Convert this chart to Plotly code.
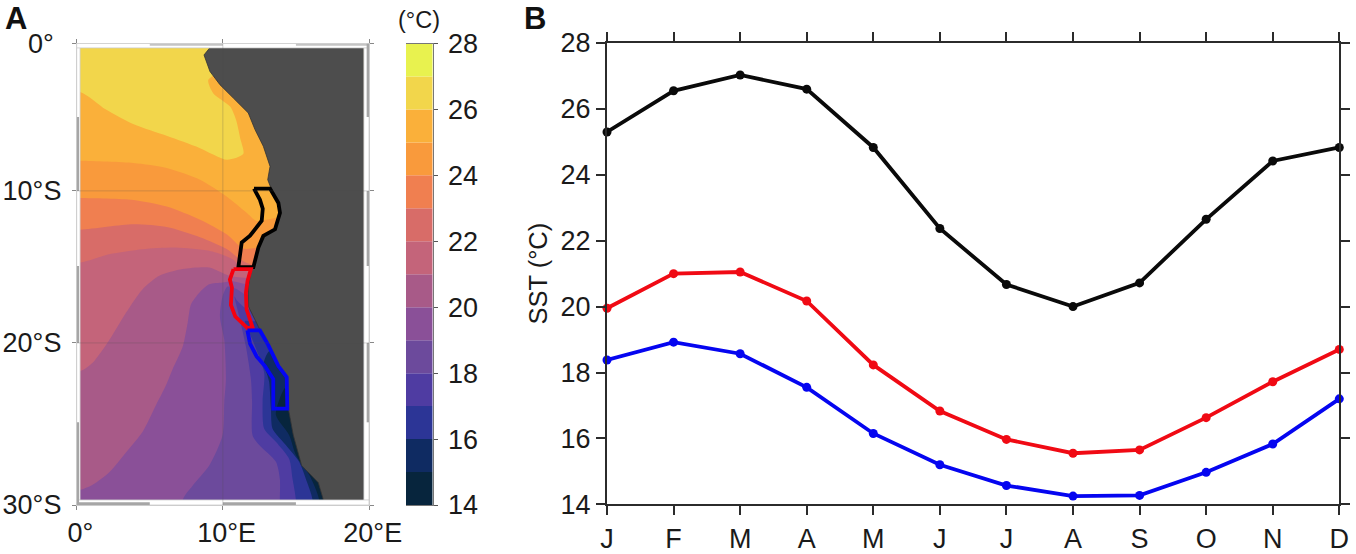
import math
import plotly.graph_objects as go

MONTHS = ["J", "F", "M", "A", "M", "J", "J", "A", "S", "O", "N", "D"]
sst_black = [25.3, 26.55, 27.03, 26.6, 24.83, 22.37, 20.67, 20.0, 20.72, 22.65, 24.42, 24.83]
sst_red = [19.95, 21.0, 21.05, 20.17, 18.23, 16.83, 15.97, 15.55, 15.65, 16.63, 17.72, 18.7]
sst_blue = [18.38, 18.92, 18.57, 17.55, 16.15, 15.2, 14.57, 14.25, 14.27, 14.97, 15.83, 17.2]

cbar_levels = [14, 15, 16, 17, 18, 19, 20, 21, 22, 23, 24, 25, 26, 27]
cbar_colors = ["#07253D", "#0F2B62", "#2C3596", "#4F3CA2", "#6C4A9C", "#8A5098", "#A85A88",
               "#C4647A", "#D86C68", "#F07F50", "#F99A3C", "#FAB03A", "#F2D64B", "#E8F24F"]

# traced isotherms (lon, lat); each one is the northern/western limit of the water colder than it
iso26_lon = [0.23, 2.0, 3.9, 6.2, 8.4, 10.3, 11.4, 11.2, 10.9, 10.5, 9.35, 9.0, 9.6, 15]
iso26_lat = [-3.3, -4.5, -5.5, -6.3, -7.1, -7.9, -7.5, -6.5, -5.2, -4.3, -3.4, -2.5, -2.1, -2.1]
iso25_lon = [0.23, 3.88, 6.16, 8.44, 10.26, 11.63, 12.31, 13.68, 15]
iso25_lat = [-7.97, -8.12, -8.46, -9.25, -10.38, -11.47, -12.01, -11.8, -11.8]
iso24_lon = [0.23, 3.88, 6.16, 8.44, 10.26, 11.4, 12.43, 15]
iso24_lat = [-10.48, -10.61, -11.05, -11.93, -12.9, -13.85, -13.8, -13.8]
iso23_lon = [0.23, 3.88, 6.16, 8.44, 10.26, 11.17, 12.2, 15]
iso23_lat = [-12.6, -12.24, -12.42, -13.1, -13.88, -14.56, -14.99, -14.99]
iso22_lon = [0.23, 2.23, 4.51, 6.79, 9.07, 10.67, 11.24, 12.03, 15]
iso22_lat = [-14.77, -14.22, -13.89, -13.78, -14.0, -14.55, -15.1, -15.5, -15.5]
iso21_lon = [0.23, 1.09, 2.23, 3.37, 4.51, 5.65, 7.25, 9.07, 10.44, 11.8, 15]
iso21_lat = [-21.8, -21.27, -19.82, -18.06, -16.52, -15.64, -15.2, -15.1, -15.64, -15.8, -15.8]
iso20_lon = [0.23, 1.09, 2.23, 3.37, 4.51, 5.42, 6.1, 6.56, 7.25, 7.59, 7.82, 8.39, 9.07, 9.98, 10.67, 11.7, 15]
iso20_lat = [-29.1, -28.8, -28.05, -26.85, -25.58, -23.94, -22.71, -21.68, -20.25, -18.72, -17.51, -16.75, -16.2, -16.08, -16.0, -16.2, -16.2]
iso19_lon = [7.25, 7.93, 9.07, 9.98, 10.1, 10.21, 10.1, 9.8, 9.98, 10.32, 10.9, 11.62, 15]
iso19_lat = [-29.7, -28.85, -27.64, -25.79, -23.7, -22.3, -19.82, -18.3, -17.0, -16.35, -16.5, -16.9, -16.9]
iso18_lon = [13.9, 13.9, 13.63, 12.49, 12.03, 12.0, 11.92, 11.58, 11.12, 10.8, 11.0, 11.65, 15]
iso18_lat = [-29.7, -28.45, -27.42, -26.4, -25.79, -23.7, -22.3, -20.25, -18.3, -17.0, -17.3, -17.8, -17.8]
iso17_lon = [15.0, 14.77, 14.54, 13.63, 12.83, 12.72, 12.83, 12.03, 11.5, 11.85, 15]
iso17_lat = [-29.7, -28.45, -27.25, -26.2, -25.4, -23.7, -21.9, -19.82, -18.6, -18.6, -18.6]
iso16_lon = [16.14, 15.68, 15.22, 14.31, 13.4, 13.29, 13.17, 13.06, 12.8, 13.2, 15]
iso16_lat = [-29.7, -28.45, -27.42, -26.4, -25.4, -24.15, -22.5, -22.1, -21.3, -20.5, -20.5]
iso15_lon = [16.59, 15.91, 15.0, 14.54, 13.63, 13.9, 14.3, 15]
iso15_lat = [-29.7, -28.2, -27.0, -25.79, -24.55, -23.5, -22.8, -22.5]

coast_lon = [9.12, 8.71, 9.12, 9.8, 10.72, 11.74, 12.2, 12.77, 13.23, 13.07, 13.34, 13.8, 13.87, 13.57, 12.77,
             12.43, 12.09, 11.97, 11.74, 11.74, 12.43, 13.11, 13.8, 14.37, 14.48, 14.82, 15.39, 16.53, 16.88]
coast_lat = [-0.28, -0.78, -1.91, -2.81, -3.72, -4.73, -5.86, -6.99, -8.35, -9.25, -9.93, -10.81, -11.47, -12.57, -13.01,
             -13.78, -14.99, -15.2, -16.31, -17.63, -18.95, -20.14, -21.48, -22.3, -24.15, -25.79, -27.64, -28.67, -29.7]

box_north_lon = [12.13, 13.23, 13.8, 13.91, 13.57, 12.77, 12.43, 12.09, 11.06, 11.17, 11.29, 11.86, 12.66, 12.73, 12.54, 12.13]
box_north_lat = [-9.85, -9.85, -10.81, -11.47, -12.57, -13.01, -13.78, -15.08, -15.08, -14.3, -13.45, -13.0, -12.0, -11.2, -10.6, -9.85]
box_central_lon = [10.73, 11.92, 11.69, 11.58, 11.62, 12.03, 11.69, 10.85, 10.55, 10.62, 10.48, 10.73]
box_central_lat = [-15.2, -15.2, -15.98, -16.75, -17.83, -18.98, -19.05, -18.3, -17.55, -16.42, -15.9, -15.2]
box_south_lon = [11.68, 12.54, 13.11, 13.8, 14.37, 14.41, 13.45, 13.45, 12.88, 12.31, 11.86, 11.68]
box_south_lat = [-19.2, -19.2, -20.14, -21.48, -22.18, -24.15, -24.15, -22.3, -21.48, -20.86, -20.04, -19.2]

W, H = 1356, 554
LON_W, LON_E, LAT_N, LAT_S = 0.23, 19.65, -0.3, -29.7
FONT = "Liberation Sans, Arial, sans-serif"


def merc(lat):
    s = -1 if lat < 0 else 1
    return s * math.degrees(math.log(math.tan(math.pi / 4 + math.radians(abs(lat)) / 2)))


def my(lats):
    return [merc(v) for v in lats]


fig = go.Figure()

# warmest water as base, then each colder region painted over it
fig.add_trace(go.Scatter(x=[0, 20, 20, 0], y=my([0, 0, -30, -30]),
                         fill="toself", mode="lines", line=dict(width=0), fillcolor=cbar_colors[12],
                         hoverinfo="skip", showlegend=False, xaxis="x", yaxis="y"))
for level, lon, lat in [(26, iso26_lon, iso26_lat), (25, iso25_lon, iso25_lat), (24, iso24_lon, iso24_lat),
                        (23, iso23_lon, iso23_lat), (22, iso22_lon, iso22_lat), (21, iso21_lon, iso21_lat),
                        (20, iso20_lon, iso20_lat), (19, iso19_lon, iso19_lat), (18, iso18_lon, iso18_lat),
                        (17, iso17_lon, iso17_lat), (16, iso16_lon, iso16_lat), (15, iso15_lon, iso15_lat)]:
    # each region runs on past the frame, so the curve is only ever seen along the isotherm itself
    if lon[0] == LON_W:
        px = [-3.0] + lon + [24.0, 24.0, -3.0]
        py = [lat[0]] + lat + [lat[-1], -34.0, -34.0]
    else:
        px = [lon[0]] + lon + [24.0, 24.0, lon[0]]
        py = [-34.0] + lat + [lat[-1], -34.0, -34.0]
    fig.add_trace(go.Scatter(x=px, y=my(py), fill="toself", mode="lines",
                             line=dict(width=0, shape="spline", smoothing=0.7),
                             fillcolor=cbar_colors[level - 15], name=f"{level} °C",
                             showlegend=False, xaxis="x", yaxis="y"))

fig.add_trace(go.Scatter(x=coast_lon + [LON_E, LON_E], y=my(coast_lat + [LAT_S, LAT_N]),
                         fill="toself", mode="lines", line=dict(width=0.8, color="#333333"), fillcolor="#4D4D4D",
                         hoverinfo="skip", showlegend=False, xaxis="x", yaxis="y"))

for lon, lat, col in [(box_north_lon, box_north_lat, "#000000"),
                      (box_central_lon, box_central_lat, "#F5000F"),
                      (box_south_lon, box_south_lat, "#0505F5")]:
    fig.add_trace(go.Scatter(x=lon, y=my(lat), mode="lines", line=dict(color=col, width=3.8),
                             showlegend=False, xaxis="x", yaxis="y"))

# colour bar
fig.add_trace(go.Bar(x=[0] * len(cbar_levels), y=[1] * len(cbar_levels), base=cbar_levels, width=1,
                     marker=dict(color=cbar_colors, line=dict(width=0)), showlegend=False,
                     xaxis="x2", yaxis="y2"))

# seasonal cycles
for vals, col in [(sst_black, "#0A0A0A"), (sst_red, "#F00A14"), (sst_blue, "#0505F0")]:
    fig.add_trace(go.Scatter(x=list(range(12)), y=vals, mode="lines+markers",
                             line=dict(color=col, width=3.8), marker=dict(color=col, size=9),
                             cliponaxis=False, showlegend=False, xaxis="x3", yaxis="y3"))

# map frame: white strips with a narrow grey segment every other 5 degrees
shapes = []
ms = [0, -5, -10, -15, -20, -25, -30]
FR = "#CCCCCC"
GF = "#A6A6A6"
NARROW = 0.16
for rect in [(0, LON_W, 0, -30), (LON_E, 20, 0, -30), (0, 20, 0, LAT_N), (0, 20, LAT_S, -30)]:
    shapes.append(dict(type="rect", xref="x", yref="y", x0=rect[0], x1=rect[1], y0=merc(rect[2]), y1=merc(rect[3]),
                       fillcolor="#FFFFFF", line=dict(color=FR, width=0.8), layer="above"))
for i in range(4):
    x0, x1 = i * 5, (i + 1) * 5
    if i % 2 == 1:
        shapes.append(dict(type="rect", xref="x", yref="y", x0=x0, x1=x1, y0=merc(-NARROW), y1=0,
                           fillcolor="#C4C4C4", line=dict(width=0), layer="above"))
    else:
        shapes.append(dict(type="rect", xref="x", yref="y", x0=x0, x1=x1, y0=merc(-30), y1=merc(-30 + NARROW),
                           fillcolor=GF, line=dict(width=0), layer="above"))
for i in range(6):
    y0, y1 = merc(ms[i]), merc(ms[i + 1])
    if i % 2 == 1:
        shapes.append(dict(type="rect", xref="x", yref="y", x0=0, x1=NARROW, y0=y0, y1=y1,
                           fillcolor=GF, line=dict(width=0), layer="above"))
    else:
        shapes.append(dict(type="rect", xref="x", yref="y", x0=20 - NARROW, x1=20, y0=y0, y1=y1,
                           fillcolor=GF, line=dict(width=0), layer="above"))
# faint graticule
GR = "rgba(80,80,80,0.3)"
shapes.append(dict(type="line", xref="x", yref="y", x0=10, x1=10, y0=merc(-30), y1=0,
                   line=dict(color=GR, width=0.8), layer="above"))
for la in (-10, -20):
    shapes.append(dict(type="line", xref="x", yref="y", x0=0, x1=20, y0=merc(la), y1=merc(la),
                       line=dict(color=GR, width=0.8), layer="above"))

AX = "#2B2B2B"
fig.update_layout(
    width=W, height=H, margin=dict(l=0, r=0, t=0, b=0),
    paper_bgcolor="white", plot_bgcolor="white", showlegend=False, shapes=shapes,
    font=dict(family=FONT, size=27, color="#1A1A1A"),
    xaxis=dict(domain=[76.7 / W, 369 / W], range=[0, 20], tickvals=[0, 10, 20],
               ticktext=["\u00a00°", "\u00a010°E", "\u00a020°E"], ticks="outside", ticklen=4, tickcolor="#888888",
               tickwidth=1, showgrid=False, zeroline=False, showline=True, linecolor=FR, linewidth=0.8,
               mirror="ticks", anchor="y", automargin=False),
    yaxis=dict(domain=[(H - 505) / H, (H - 43.5) / H], range=[merc(-30), 0], tickvals=my([0, -10, -20, -30]),
               ticktext=["0°\u00a0", "10°S", "20°S", "30°S"], ticks="outside", ticklen=4, tickcolor="#888888",
               tickwidth=1, showgrid=False, zeroline=False, showline=True, linecolor=FR, linewidth=0.8,
               mirror="ticks", anchor="x", ticklabelstandoff=5, automargin=False),
    xaxis2=dict(domain=[406 / W, 432.7 / W], range=[-0.5, 0.5], showticklabels=False, ticks="",
                showgrid=False, zeroline=False, showline=True, linecolor="#777777", linewidth=1, mirror=True,
                anchor="y2", automargin=False),
    yaxis2=dict(domain=[(H - 505) / H, (H - 43.5) / H], range=[14, 28], tickvals=[14, 16, 18, 20, 22, 24, 26, 28],
                side="right", ticks="outside", ticklen=4, tickcolor="#555555", tickwidth=1, showgrid=False,
                zeroline=False, showline=True, linecolor="#777777", linewidth=1, anchor="x2", ticklabelstandoff=5,
                automargin=False),
    xaxis3=dict(domain=[607 / W, 1339.3 / W], range=[0, 11], tickmode="array", tickvals=list(range(12)),
                ticktext=MONTHS, ticks="outside", ticklen=9, tickwidth=2, tickcolor=AX, showgrid=False,
                zeroline=False, showline=True, linecolor=AX, linewidth=2, mirror="ticks", anchor="y3",
                automargin=False),
    yaxis3=dict(domain=[(H - 504.3) / H, (H - 43) / H], range=[14, 28], tickvals=[14, 16, 18, 20, 22, 24, 26, 28],
                ticks="outside", ticklen=9, tickwidth=2, tickcolor=AX, showgrid=False, zeroline=False,
                showline=True, linecolor=AX, linewidth=2, mirror="ticks", anchor="x3", automargin=False,
                title=dict(text="SST (°C)", font=dict(size=25.5), standoff=6)),
    annotations=[
        dict(text="<b>A</b>", x=16 / W, y=1 - 18 / H, xref="paper", yref="paper", showarrow=False,
             font=dict(size=31, color="#111111"), xanchor="center", yanchor="middle"),
        dict(text="<b>B</b>", x=534.5 / W, y=1 - 18 / H, xref="paper", yref="paper", showarrow=False,
             font=dict(size=31, color="#111111"), xanchor="center", yanchor="middle"),
        dict(text="(°C)", x=419 / W, y=1 - 20 / H, xref="paper", yref="paper", showarrow=False,
             font=dict(size=23.5), xanchor="center", yanchor="middle"),
    ],
)

fig.write_html("out.html", config=dict(displayModeBar=False), post_script="document.body.style.margin='0';")
